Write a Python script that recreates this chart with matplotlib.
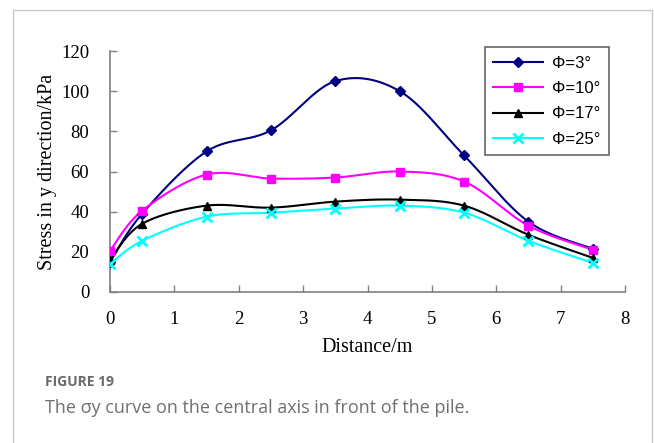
import numpy as np
import matplotlib.pyplot as plt
from matplotlib.patches import Rectangle

# distance along the central axis (m)
distance = [0, 0.5, 1.5, 2.5, 3.5, 4.5, 5.5, 6.5, 7.5]

# stress in y direction (kPa), one list per friction angle
phi_3 = [15, 39, 70, 80.5, 105, 100, 68, 35, 21.5]
phi_10 = [20.5, 40.5, 58.5, 56.5, 57, 60, 55, 33, 21]
phi_17 = [16, 34, 43, 42, 45, 46, 43, 28.5, 17]
phi_25 = [14, 25.5, 37.5, 39.5, 41.5, 43, 39.5, 25.5, 14.5]

labels = ['\u03a6=3\u00b0', '\u03a6=10\u00b0', '\u03a6=17\u00b0', '\u03a6=25\u00b0']
colors = ['#000080', '#ff00ff', '#000000', '#00ffff']
markers = ['D', 's', '^', 'x']
msizes = [5, 6, 6, 7]


def smooth(x, y, n=30):
    # excel-like smoothed line: cubic bezier, control points from neighbours / 6
    x = np.asarray(x, float)
    y = np.asarray(y, float)
    pts = np.column_stack([x, y])
    out = []
    for i in range(len(pts) - 1):
        p0 = pts[i - 1] if i > 0 else pts[i]
        p1 = pts[i]
        p2 = pts[i + 1]
        p3 = pts[i + 2] if i + 2 < len(pts) else pts[i + 1]
        c1 = p1 + (p2 - p0) / 6
        c2 = p2 - (p3 - p1) / 6
        t = np.linspace(0, 1, n)[:, None]
        seg = ((1 - t) ** 3) * p1 + 3 * ((1 - t) ** 2) * t * c1 + 3 * (1 - t) * t ** 2 * c2 + t ** 3 * p2
        out.append(seg if i == 0 else seg[1:])
    seg = np.vstack(out)
    return seg[:, 0], seg[:, 1]


fig = plt.figure(figsize=(6.54, 4.43), dpi=100)
fig.patch.set_facecolor('white')

# outer frame of the figure panel
fig.patches.append(Rectangle((13 / 654, -0.05), (652 - 13) / 654, 1 - 10 / 443 + 0.05,
                             transform=fig.transFigure, fill=False,
                             edgecolor='#c8c8c8', linewidth=1.0))

ax = fig.add_axes([110 / 654, 1 - 292 / 443, 515 / 654, 241 / 443])

series = [phi_3, phi_10, phi_17, phi_25]
handles = []
for ys, lab, c, m, ms in zip(series, labels, colors, markers, msizes):
    sx, sy = smooth(distance, ys)
    ax.plot(sx, sy, color=c, lw=1.5, zorder=2)
    ax.plot(distance, ys, linestyle='none', marker=m, color=c, ms=ms,
            mew=2 if m == 'x' else 1, zorder=3)
    h, = ax.plot([], [], color=c, lw=1.5, marker=m, ms=ms, mew=2 if m == 'x' else 1)
    handles.append(h)

ax.set_xlim(0, 8)
ax.set_ylim(0, 120)
ax.set_xticks(range(0, 9))
ax.set_yticks(range(0, 121, 20))

for s in ['top', 'right']:
    ax.spines[s].set_visible(False)
for s in ['left', 'bottom']:
    ax.spines[s].set_color('#808080')
    ax.spines[s].set_linewidth(1.2)

ax.tick_params(direction='in', length=5, width=1, color='#808080', labelsize=13.5)
ax.tick_params(axis='x', pad=14)
ax.tick_params(axis='y', pad=15)
for t in ax.get_xticklabels() + ax.get_yticklabels():
    t.set_fontfamily('Liberation Serif')

ax.set_xlabel('Distance/m', family='Liberation Serif', fontsize=14.5, labelpad=7)
ax.set_ylabel('Stress in y direction/kPa', family='Liberation Serif', fontsize=14.5)
ax.yaxis.set_label_coords((57 - 110) / 515, 0.5)

leg = ax.legend(handles, labels, loc='upper right', bbox_to_anchor=(0.968, 1.015),
                prop={'family': 'Liberation Sans', 'size': 12}, frameon=True,
                fancybox=False, handlelength=3.0, borderpad=0.5, labelspacing=0.62,
                handletextpad=0.5, borderaxespad=0)
leg.get_frame().set_edgecolor('#404040')
leg.get_frame().set_linewidth(1.2)

fig.text(45 / 654, 1 - 382 / 443, 'FIGURE 19', family='Open Sans', weight='bold',
         fontsize=10, color='#6a6a6a', va='center')
fig.text(45 / 654, 1 - 408 / 443, 'The \u03c3y curve on the central axis in front of the pile.',
         family='Open Sans', fontsize=13, color='#707070', va='center')

fig.savefig('out.png', dpi=100)
